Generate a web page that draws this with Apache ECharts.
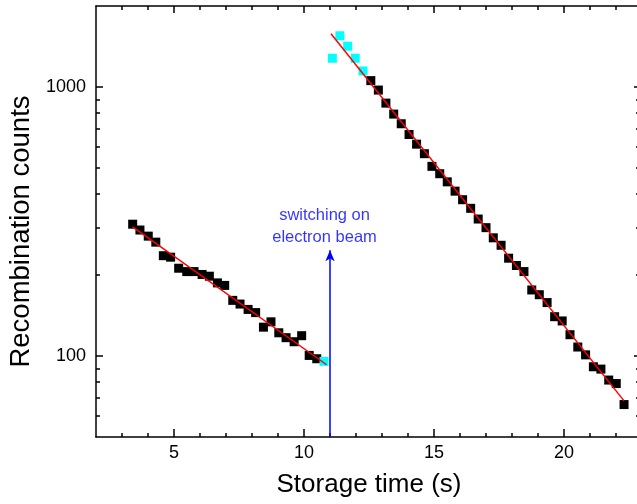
<!DOCTYPE html>
<html><head><meta charset="utf-8">
<script src="https://cdn.jsdelivr.net/npm/echarts@6.0.0/dist/echarts.min.js"></script>
<style>html,body{margin:0;padding:0;background:#fff}#c{width:637px;height:504px}</style>
</head><body><div id="c"></div>
<script>
// ---- data ----
const xMajorTicks = [5, 10, 15, 20];
const xMinorTicks = [3, 4, 6, 7, 8, 9, 11, 12, 13, 14, 16, 17, 18, 19, 21, 22];
const yMajorTicks = [100, 1000];
const yMinorTicks = [60, 70, 80, 90, 200, 300, 400, 500, 600, 700, 800, 900];

const seg1X = [3.41,3.69,4.01,4.30,4.59,4.87,5.18,5.49,5.77,6.08,6.36,6.67,6.95,7.26,7.54,7.85,8.14,8.44,8.73,9.03,9.31,9.62,9.91,10.20,10.49];
const seg1Y = [309,294,279,265,236,233,212,206,206,201,198,187,183,161,156,149,145,128,134,122,117,113,119,100.5,97.7];

const cyanX = [10.77, 11.09, 11.38, 11.68, 11.97, 12.27];
const cyanY = [95.5, 1279, 1550, 1418, 1279, 1147];

const seg2X = [12.57,12.86,13.15,13.45,13.74,14.04,14.33,14.63,14.92,15.22,15.51,15.81,16.10,16.41,16.70,17.00,17.28,17.58,17.87,18.17,18.46,18.76,19.05,19.35,19.64,19.93,20.23,20.53,20.83,21.13,21.42,21.72,22.01,22.31];
const seg2Y = [1056,974,871,793,730,666,613,565,507,476,444,410,381,354,323,300,275,258,231,217,206,176,169,158,140,135,120,108,101,91.2,89.4,81.4,79,66];

const fit1X = [3.41, 10.87];
const fit1Y = [302, 92.8];
const fit2X = [11.04, 22.31];
const fit2Y = [1577, 68.1];

const arrowX = [11, 11];
const arrowY = [50, 247];
const noteXY = [10.79, 304];
const noteText = 'switching on\nelectron beam';

const xRange = [2, 23];
const yRange = [50, 2000];

// ---- chart ----
const FONT = '"Liberation Sans", Arial, Helvetica, sans-serif';
const pairs = (xs, ys) => xs.map((x, i) => [x, ys[i]]);
const tickStyle = {color: '#000', width: 1.5};

function xAx(pos, ticks, len, line, labels, extra) {
  return Object.assign({
    type: 'value', position: pos, min: xRange[0], max: xRange[1],
    axisLine: {show: line, onZero: false, lineStyle: {color: '#000', width: 1.5}},
    axisTick: {show: true, inside: true, length: len, customValues: ticks, lineStyle: tickStyle},
    axisLabel: labels ? {show: true, customValues: ticks, margin: 7, fontSize: 18, color: '#000', fontFamily: FONT}
                      : {show: false},
    splitLine: {show: false}
  }, extra || {});
}
function yAx(pos, ticks, len, line, labels, extra) {
  return Object.assign({
    type: 'log', logBase: 10, position: pos, min: yRange[0], max: yRange[1],
    axisLine: {show: line, onZero: false, lineStyle: {color: '#000', width: 1.5}},
    axisTick: {show: true, inside: true, length: len, customValues: ticks, lineStyle: tickStyle},
    axisLabel: labels ? {show: true, customValues: ticks, margin: 10, fontSize: 18, color: '#000', fontFamily: FONT,
                         formatter: v => String(Math.round(v))}
                      : {show: false},
    splitLine: {show: false}, minorTick: {show: false}
  }, extra || {});
}

const chart = echarts.init(document.getElementById('c'), null, {renderer: 'canvas'});
chart.setOption({
  animation: false,
  backgroundColor: '#fff',
  grid: {left: 96, top: 6, width: 546, height: 431, containLabel: false, outerBoundsMode: 'none'},
  xAxis: [
    xAx('bottom', xMajorTicks, 8, true, true, {
      name: 'Storage time (s)', nameLocation: 'middle', nameGap: 35,
      nameTextStyle: {fontSize: 26, color: '#000', fontFamily: FONT}
    }),
    xAx('bottom', xMinorTicks, 4, false, false),
    xAx('top', xMajorTicks, 7, true, false),
    xAx('top', xMinorTicks, 4, false, false)
  ],
  yAxis: [
    yAx('left', yMajorTicks, 7, true, true, {
      name: 'Recombination counts', nameLocation: 'middle', nameGap: 58,
      nameTextStyle: {fontSize: 27.5, color: '#000', fontFamily: FONT, padding: [0, 20, 0, 0]}
    }),
    yAx('left', yMinorTicks, 4, false, false),
    yAx('right', yMajorTicks, 8, true, false),
    yAx('right', yMinorTicks, 6, false, false)
  ],
  series: [
    {type: 'scatter', data: pairs(seg1X, seg1Y), symbol: 'rect', symbolSize: 9,
     itemStyle: {color: '#000', opacity: 1}, z: 2},
    {type: 'scatter', data: pairs(seg2X, seg2Y), symbol: 'rect', symbolSize: 9,
     itemStyle: {color: '#000', opacity: 1}, z: 2},
    {type: 'scatter', data: pairs(cyanX, cyanY), symbol: 'rect', symbolSize: 9,
     itemStyle: {color: '#00ffff', opacity: 1}, z: 2},
    {type: 'line', data: pairs(fit1X, fit1Y), showSymbol: false, symbol: 'none',
     lineStyle: {color: '#ff0000', width: 1.5}, z: 3},
    {type: 'line', data: pairs(fit2X, fit2Y), showSymbol: false, symbol: 'none',
     lineStyle: {color: '#ff0000', width: 1.5}, z: 3,
     markLine: {silent: true, symbol: ['none', 'arrow'], symbolSize: [7, 11],
       lineStyle: {color: '#0000ff', width: 1.5, type: 'solid'}, label: {show: false},
       emphasis: {disabled: true},
       data: [[{coord: [arrowX[0], arrowY[0]]}, {coord: [arrowX[1], arrowY[1]]}]]}},
    {type: 'scatter', data: [noteXY], symbolSize: 1, itemStyle: {color: 'transparent'}, z: 4,
     label: {show: true, position: 'inside', formatter: noteText, color: '#0000ff',
             fontSize: 16.5, lineHeight: 22, fontFamily: FONT, align: 'center'}}
  ]
});
</script></body></html>
